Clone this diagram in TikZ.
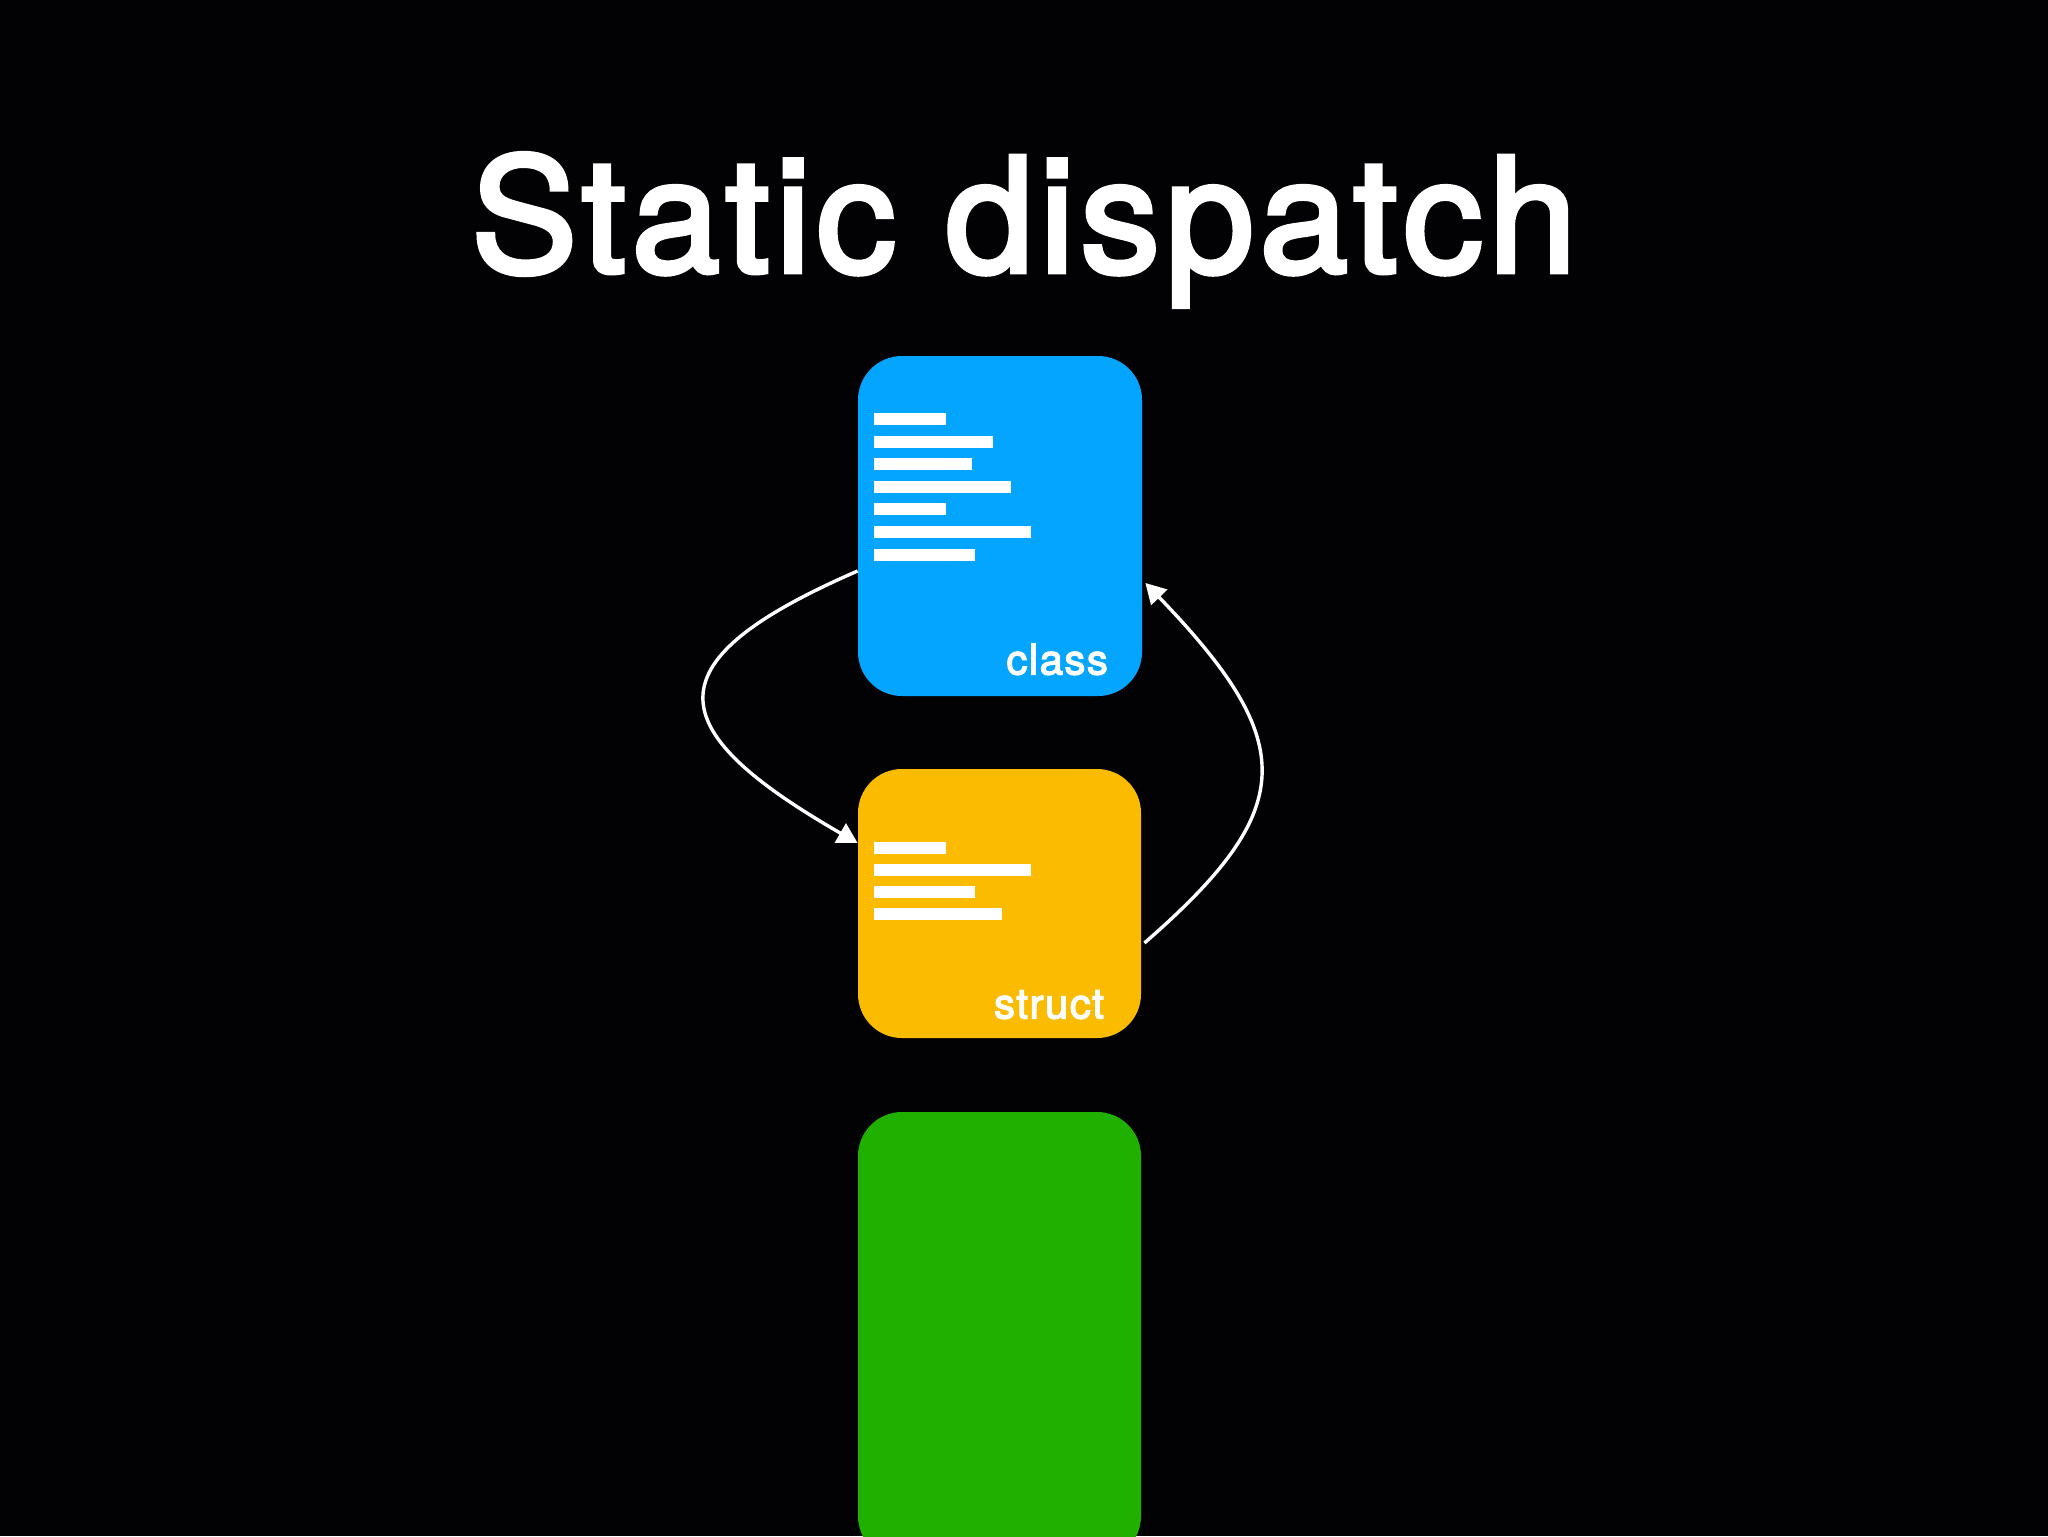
\documentclass[tikz,border=0pt]{standalone}
\usepackage{fontspec}
\setmainfont{TeX Gyre Heros}
\usetikzlibrary{arrows.meta,calc}
\definecolor{bg}{RGB}{2,2,4}
\definecolor{cblue}{RGB}{3,165,255}
\definecolor{cyellow}{RGB}{250,187,0}
\definecolor{cgreen}{RGB}{31,176,0}
\tikzset{
  card/.style={rectangle, rounded corners=22pt, inner sep=0pt, draw=none},
  bar/.style={fill=white},
  link/.style={draw=white, line width=1.7pt, -{Triangle[length=10pt,width=11pt]}},
  cardlabel/.style={text=white, inner sep=0pt, anchor=base east,
    font=\fontsize{21}{25}\selectfont\addfontfeature{LetterSpace=3.5,FakeBold=3}},
}
\begin{document}
\begin{tikzpicture}[x=0.5pt,y=-0.5pt]
\useasboundingbox (0,0) rectangle (2048,1536);
\fill[bg] (0,0) rectangle (2048,1536);
\begin{scope}
\clip (0,0) rectangle (2048,1536);

\node[text=white, anchor=base, inner sep=0pt,
  font=\fontsize{79.5}{86}\selectfont\addfontfeature{LetterSpace=3.5,FakeBold=3}] (title) at (1024,272) {Static dispatch};

\node[card, fill=cblue, minimum width=142pt, minimum height=170pt] (class) at (1000,526) {};
\node[card, fill=cyellow, minimum width=141.5pt, minimum height=134.5pt] (struct) at (999.5,903.5) {};
\node[card, fill=cgreen, minimum width=141.5pt, minimum height=224pt] (green) at (999.5,1336) {};

% text lines on the class card
\fill[bar] (874,413) rectangle +(72,12);
\fill[bar] (874,435.6) rectangle +(119,12);
\fill[bar] (874,458.2) rectangle +(98,12);
\fill[bar] (874,480.8) rectangle +(137,12);
\fill[bar] (874,503.4) rectangle +(72,12);
\fill[bar] (874,526) rectangle +(157,12);
\fill[bar] (874,548.6) rectangle +(101,12);

% text lines on the struct card
\fill[bar] (874,842) rectangle +(72,12);
\fill[bar] (874,864) rectangle +(157,12);
\fill[bar] (874,886) rectangle +(101,12);
\fill[bar] (874,908) rectangle +(128,12);

\node[cardlabel] (classlbl) at ($(class.south east)+(-34,-22)$) {class};
\node[cardlabel] (structlbl) at ($(struct.south east)+(-37,-20)$) {struct};

\draw[link] ($(class.west)+(0,45)$) .. controls +(-207,90) and +(-200,-115) .. ($(struct.west)+(0,-60.5)$);
\draw[link] ($(struct.east)+(3,39.5)$) .. controls +(154,-134) and +(154,160) .. ($(class.east)+(3,57)$);
\end{scope}
\end{tikzpicture}
\end{document}
